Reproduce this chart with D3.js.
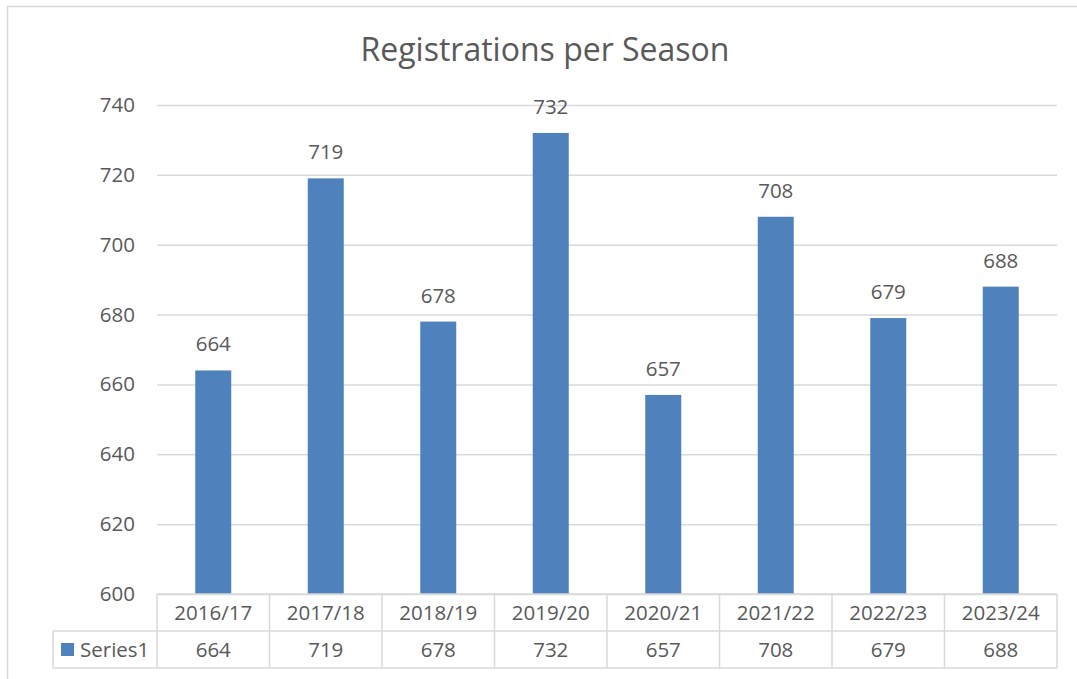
<!DOCTYPE html>
<html>
<head>
<meta charset="utf-8">
<script src="https://cdn.jsdelivr.net/npm/d3@7"></script>
<style>
  body { margin: 0; background: #fff; }
  text { font-family: "Open Sans", "Noto Sans", sans-serif; fill: #595959; }
</style>
</head>
<body>
<svg id="chart"></svg>
<script>
const W = 1077, H = 679;
const seasons = ["2016/17", "2017/18", "2018/19", "2019/20", "2020/21", "2021/22", "2022/23", "2023/24"];
const registrations = [664, 719, 678, 732, 657, 708, 679, 688];
const yTicks = [600, 620, 640, 660, 680, 700, 720, 740];
const seriesName = "Series1";
const chartTitle = "Registrations per Season";

const BAR = "#4f81bd";
const GRID = "#d9d9d9";

let svg = d3.select("#chart").attr("width", W).attr("height", H);

// outer chart border (runs off the right and bottom)
svg.append("rect")
  .attr("x", 7.5).attr("y", 6.5)
  .attr("width", W).attr("height", H)
  .attr("fill", "#fff")
  .attr("stroke", GRID).attr("stroke-width", 1.5);

let x = d3.scaleBand()
  .domain(seasons)
  .range([157, 1057])
  .paddingInner(0.68)
  .paddingOuter(0.34);

let y = d3.scaleLinear().domain([600, 740]).range([594, 105]);

// gridlines + tick labels
let yAxis = svg.append("g")
  .attr("transform", "translate(157,0)")
  .call(d3.axisLeft(y).tickValues(yTicks).tickSize(-900).tickPadding(22));
yAxis.select(".domain").remove();
yAxis.selectAll(".tick line").attr("stroke", GRID).attr("stroke-width", 1.5);
yAxis.selectAll(".tick text")
  .attr("font-size", 20.5).attr("fill", "#595959")
  .style("font-family", '"Open Sans", sans-serif');

// bars
svg.selectAll("rect.bar")
  .data(registrations)
  .enter()
  .append("rect")
  .attr("class", "bar")
  .attr("x", (d, i) => x(seasons[i]))
  .attr("y", d => y(d))
  .attr("width", x.bandwidth())
  .attr("height", d => y(600) - y(d))
  .attr("fill", BAR);

// data labels
svg.selectAll("text.lbl")
  .data(registrations)
  .enter()
  .append("text")
  .attr("class", "lbl")
  .attr("x", (d, i) => x(seasons[i]) + x.bandwidth() / 2)
  .attr("y", d => y(d) - 19)
  .attr("text-anchor", "middle")
  .attr("font-size", 20.5)
  .text(d => d);

// title
svg.append("text")
  .attr("x", 545).attr("y", 61)
  .attr("text-anchor", "middle")
  .attr("font-size", 32)
  .text(chartTitle);

// data table under the plot
let step = x.step();
let left = 157, right = 1057;
let rowTop = 594, rowMid = 631, rowBot = 668, tableLeft = 53;
let table = svg.append("g").attr("stroke", GRID).attr("stroke-width", 1.5);
table.append("line").attr("x1", left).attr("x2", right).attr("y1", rowTop).attr("y2", rowTop);
table.append("line").attr("x1", tableLeft).attr("x2", right).attr("y1", rowMid).attr("y2", rowMid);
table.append("line").attr("x1", tableLeft).attr("x2", right).attr("y1", rowBot).attr("y2", rowBot);
table.append("line").attr("x1", tableLeft).attr("x2", tableLeft).attr("y1", rowMid).attr("y2", rowBot);
table.selectAll("line.v")
  .data(d3.range(seasons.length + 1))
  .enter()
  .append("line")
  .attr("class", "v")
  .attr("x1", i => left + i * step).attr("x2", i => left + i * step)
  .attr("y1", rowTop).attr("y2", rowBot);

svg.selectAll("text.cat")
  .data(seasons)
  .enter()
  .append("text")
  .attr("class", "cat")
  .attr("x", d => x(d) + x.bandwidth() / 2)
  .attr("y", (rowTop + rowMid) / 2)
  .attr("dy", "0.35em")
  .attr("text-anchor", "middle")
  .attr("font-size", 20.5)
  .text(d => d);

svg.selectAll("text.val")
  .data(registrations)
  .enter()
  .append("text")
  .attr("class", "val")
  .attr("x", (d, i) => x(seasons[i]) + x.bandwidth() / 2)
  .attr("y", (rowMid + rowBot) / 2)
  .attr("dy", "0.35em")
  .attr("text-anchor", "middle")
  .attr("font-size", 20.5)
  .text(d => d);

// legend key in the table
svg.append("rect")
  .attr("x", 61).attr("y", 643)
  .attr("width", 13).attr("height", 13)
  .attr("fill", BAR);
svg.append("text")
  .attr("x", 80).attr("y", (rowMid + rowBot) / 2)
  .attr("dy", "0.35em")
  .attr("font-size", 20.5)
  .text(seriesName);
</script>
</body>
</html>
